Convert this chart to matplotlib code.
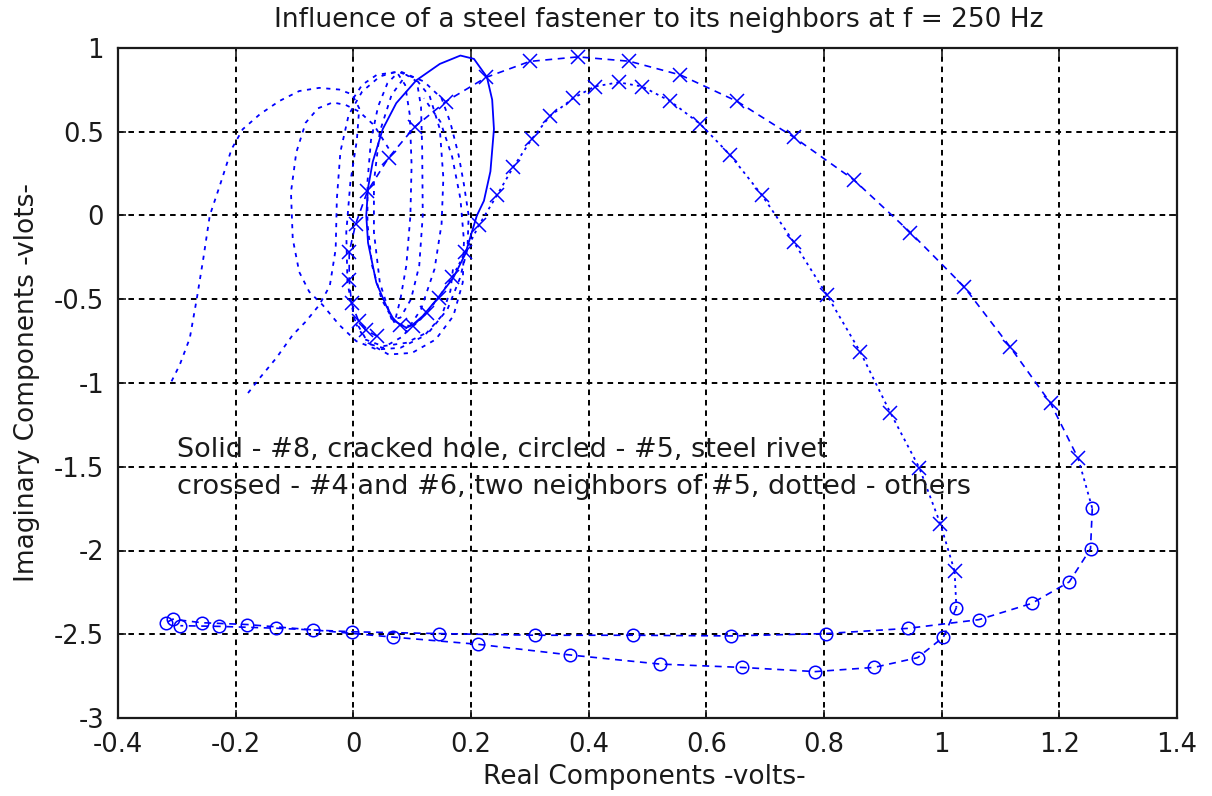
import matplotlib
matplotlib.use("Agg")
import matplotlib.pyplot as plt

plt.rcParams['font.family'] = ['DejaVu Sans']
plt.rcParams['axes.unicode_minus'] = False
plt.rcParams['lines.scale_dashes'] = False

BLUE = (0, 0, 1)

# solid - #8, cracked hole
solid_x = [0.090, 0.070, 0.056, 0.039, 0.025, 0.022, 0.025, 0.033, 0.050, 0.073, 0.107, 0.147, 0.182,
           0.205, 0.227, 0.236, 0.239, 0.233, 0.222, 0.210, 0.190, 0.170, 0.142, 0.118, 0.100, 0.090]
solid_y = [-0.670, -0.630, -0.540, -0.400, -0.163, 0.000, 0.165, 0.321, 0.516, 0.671, 0.807, 0.905, 0.955,
           0.935, 0.827, 0.691, 0.516, 0.263, 0.088, 0.000, -0.232, -0.371, -0.500, -0.600, -0.655, -0.670]

# crossed - #4 and #6
cross1_x = [0.040, 0.021, 0.009, -0.003, -0.007, -0.007, 0.004, 0.024, 0.060, 0.104, 0.157, 0.226, 0.300,
            0.382, 0.469, 0.556, 0.652, 0.749, 0.851, 0.947, 1.038, 1.116, 1.185, 1.232]
cross1_y = [-0.720, -0.685, -0.630, -0.525, -0.386, -0.218, -0.050, 0.145, 0.345, 0.528, 0.680, 0.825, 0.920,
            0.947, 0.921, 0.839, 0.682, 0.467, 0.212, -0.102, -0.425, -0.783, -1.120, -1.450]

cross2_x = [0.080, 0.102, 0.125, 0.145, 0.168, 0.190, 0.214, 0.244, 0.272, 0.303, 0.334, 0.374, 0.410,
            0.451, 0.491, 0.539, 0.590, 0.641, 0.694, 0.749, 0.805, 0.862, 0.913, 0.962, 0.998, 1.022]
cross2_y = [-0.655, -0.660, -0.580, -0.490, -0.370, -0.220, -0.055, 0.120, 0.290, 0.455, 0.593, 0.701, 0.770,
            0.795, 0.770, 0.682, 0.545, 0.359, 0.124, -0.161, -0.475, -0.817, -1.179, -1.506, -1.843, -2.124]

# circled - #5, steel rivet
circ1_x = [1.256, 1.253, 1.217, 1.153, 1.063, 0.942, 0.803, 0.642, 0.475, 0.308, 0.145, -0.003,
           -0.131, -0.228, -0.294]
circ1_y = [-1.748, -1.990, -2.187, -2.316, -2.413, -2.465, -2.496, -2.510, -2.506, -2.506, -2.496, -2.485,
           -2.464, -2.453, -2.449]
circ2_x = [1.025, 1.003, 0.959, 0.885, 0.785, 0.660, 0.521, 0.369, 0.212, 0.067, -0.068, -0.180,
           -0.258, -0.307, -0.318]
circ2_y = [-2.341, -2.517, -2.640, -2.698, -2.723, -2.698, -2.678, -2.624, -2.560, -2.517, -2.474, -2.442,
           -2.431, -2.410, -2.431]

# dotted - others
dot1_x = [-0.309, -0.295, -0.278, -0.266, -0.255, -0.244, -0.227, -0.207, -0.188, -0.159, -0.126, -0.092,
          -0.058, -0.024, -0.002, 0.010, 0.006, -0.005, -0.012, -0.010, 0.002, 0.025, 0.060, 0.100, 0.140,
          0.170, 0.186, 0.188, 0.182, 0.168, 0.148, 0.120]
dot1_y = [-0.990, -0.891, -0.733, -0.495, -0.257, 0.000, 0.178, 0.396, 0.515, 0.604, 0.683, 0.743,
          0.762, 0.752, 0.723, 0.640, 0.450, 0.200, -0.100, -0.400, -0.620, -0.760, -0.830, -0.820, -0.740,
          -0.600, -0.400, -0.150, 0.100, 0.350, 0.560, 0.700]

dot2_x = [0.060, 0.035, 0.010, -0.013, -0.035, -0.060, -0.081, -0.097, -0.106, -0.103, -0.092, -0.075,
          -0.052, -0.024, 0.005, 0.040, 0.080, 0.120, 0.150, 0.165, 0.170]
dot2_y = [0.400, 0.540, 0.620, 0.660, 0.675, 0.640, 0.554, 0.376, 0.139, -0.139, -0.337, -0.455,
          -0.535, -0.653, -0.750, -0.800, -0.790, -0.720, -0.600, -0.450, -0.300]

dot3_x = [-0.179, -0.159, -0.131, -0.103, -0.081, -0.058, -0.040, -0.030, -0.028, -0.022, -0.008, 0.015,
          0.045, 0.075, 0.105, 0.130, 0.147, 0.153, 0.150, 0.138, 0.115, 0.085, 0.050, 0.020]
dot3_y = [-1.060, -0.970, -0.851, -0.713, -0.634, -0.535, -0.420, -0.200, 0.100, 0.380, 0.600, 0.740,
          0.830, 0.860, 0.820, 0.710, 0.516, 0.224, -0.050, -0.320, -0.560, -0.720, -0.790, -0.760]

dot4_x = [0.070, 0.048, 0.032, 0.024, 0.024, 0.030, 0.042, 0.058, 0.075, 0.088, 0.096, 0.099, 0.097,
          0.090, 0.080, 0.070]
dot4_y = [-0.640, -0.500, -0.300, -0.050, 0.200, 0.450, 0.650, 0.790, 0.850, 0.780, 0.600, 0.300, 0.000,
          -0.300, -0.500, -0.640]

dot5_x = [0.065, 0.045, 0.035, 0.035, 0.045, 0.065, 0.090, 0.108, 0.115, 0.117, 0.118, 0.112, 0.098,
          0.080, 0.065]
dot5_y = [-0.620, -0.400, -0.100, 0.200, 0.500, 0.720, 0.840, 0.800, 0.650, 0.400, 0.000, -0.300, -0.500,
          -0.610, -0.620]

dot6_x = [0.000, 0.015, 0.040, 0.080, 0.120, 0.150, 0.165, 0.179, 0.188, 0.196, 0.194, 0.181, 0.160,
          0.130, 0.090, 0.050, 0.020, 0.005]
dot6_y = [0.700, 0.780, 0.840, 0.860, 0.800, 0.700, 0.554, 0.360, 0.185, 0.000, -0.200, -0.376, -0.560,
          -0.690, -0.760, -0.780, -0.740, -0.650]

xticks = [-0.4, -0.2, 0, 0.2, 0.4, 0.6, 0.8, 1, 1.2, 1.4]
xtick_labels = ['-0.4', '-0.2', '0', '0.2', '0.4', '0.6', '0.8', '1', '1.2', '1.4']
yticks = [-3, -2.5, -2, -1.5, -1, -0.5, 0, 0.5, 1]
ytick_labels = ['-3', '-2.5', '-2', '-1.5', '-1', '-0.5', '0', '0.5', '1']

fig = plt.figure(figsize=(12.12, 7.96), dpi=100)
ax = fig.add_axes([118 / 1212, 1 - 718 / 796, 1059 / 1212, 670 / 796])

dotted = (0, (3, 4))
dashed = (0, (5, 4))
fine = (0, (2, 3))

for dx, dy in [(dot1_x, dot1_y), (dot2_x, dot2_y), (dot3_x, dot3_y), (dot4_x, dot4_y),
               (dot5_x, dot5_y), (dot6_x, dot6_y)]:
    ax.plot(dx, dy, color=BLUE, lw=1.3, linestyle=dotted)

ax.plot(solid_x, solid_y, color=BLUE, lw=1.3, linestyle='-')

ax.plot(cross1_x, cross1_y, color=BLUE, lw=1.2, linestyle=dashed, marker='x', ms=10, mew=1.1)
ax.plot(cross2_x, cross2_y, color=BLUE, lw=1.3, linestyle=fine, marker='x', ms=10, mew=1.1)
# links between crossed ends and circled starts
ax.plot([cross1_x[-1], circ1_x[0]], [cross1_y[-1], circ1_y[0]], color=BLUE, lw=1.3, linestyle=fine)
ax.plot([cross2_x[-1], circ2_x[0]], [cross2_y[-1], circ2_y[0]], color=BLUE, lw=1.3, linestyle=fine)

ax.plot(circ1_x, circ1_y, color=BLUE, lw=1.2, linestyle=dashed, marker='o', ms=9, mfc='none', mew=1.1)
ax.plot(circ2_x, circ2_y, color=BLUE, lw=1.2, linestyle=dashed, marker='o', ms=9, mfc='none', mew=1.1)

ax.set_xlim(-0.4, 1.4)
ax.set_ylim(-3, 1)
ax.set_xticks(xticks)
ax.set_xticklabels(xtick_labels)
ax.set_yticks(yticks)
ax.set_yticklabels(ytick_labels)
ax.tick_params(direction='in', length=6, width=1.2, top=True, right=True, labelsize=18.5, pad=10,
               colors='#1a1a1a')
ax.grid(True, color='k', lw=1.4, linestyle=(0, (4, 3.5)))
for s in ax.spines.values():
    s.set_linewidth(1.6)
    s.set_color('#1a1a1a')

ax.text(-0.30, -1.40, 'Solid - #8, cracked hole, circled - #5, steel rivet', fontsize=19.5,
        va='center', ha='left', color='#1a1a1a')
ax.text(-0.30, -1.62, 'crossed - #4 and #6, two neighbors of #5, dotted - others', fontsize=19.5,
        va='center', ha='left', color='#1a1a1a')

fig.text(659 / 1212, 1 - 20 / 796, 'Influence of a steel fastener to its neighbors at f = 250 Hz',
         fontsize=19, ha='center', va='center', color='#1a1a1a')
fig.text(644 / 1212, 1 - 777 / 796, 'Real Components -volts-', fontsize=19, ha='center', va='center',
         color='#1a1a1a')
fig.text(27 / 1212, 1 - 383 / 796, 'Imaginary Components -vlots-', fontsize=19, ha='center', va='center',
         rotation=90, color='#1a1a1a')

fig.savefig('out.png', dpi=100)
